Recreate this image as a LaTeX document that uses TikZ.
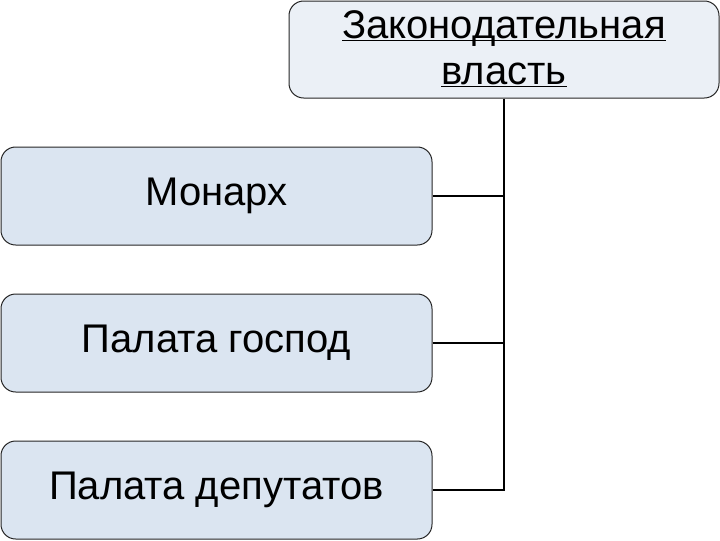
\documentclass[tikz,border=0pt]{standalone}
\usepackage{fontspec}
\setmainfont{Liberation Sans}
\tikzset{every picture/.style={line width=0.75pt}}
\definecolor{topfill}{RGB}{235,240,246}
\definecolor{boxfill}{RGB}{219,229,241}
\tikzset{
  branch/.style={draw=black!85, rounded corners=11pt, inner sep=0pt, align=center,
    font=\fontsize{30}{34.5}\selectfont},
  topbox/.style={branch, fill=topfill, minimum width=322.5pt, minimum height=72.75pt},
  sidebox/.style={branch, fill=boxfill, minimum width=323.25pt, minimum height=73.5pt},
  link/.style={line width=1.5pt, black}
}
\begin{document}
\begin{tikzpicture}[x=0.75pt,y=0.75pt,yscale=-1,xscale=1]
	\path[use as bounding box] (0,0) rectangle (720,540);

	% Boxes
	\node [topbox] (vlast) at (504,49.5) {\rule{0pt}{20.5pt}\underline{\smash{Законодательная}}\\\underline{\smash{власть}}};
	\node [sidebox] (monarh) at (216.5,196) {Монарх};
	\node [sidebox] (gospod) at (216.5,343) {Палата господ};
	\node [sidebox] (deput) at (216.5,490) {Палата депутатов};

	% Connectors
	\draw [link] (vlast.south) |- (deput.east);
	\draw [link] (monarh.east) -- (monarh.east -| vlast.south);
	\draw [link] (gospod.east) -- (gospod.east -| vlast.south);

\end{tikzpicture}
\end{document}
